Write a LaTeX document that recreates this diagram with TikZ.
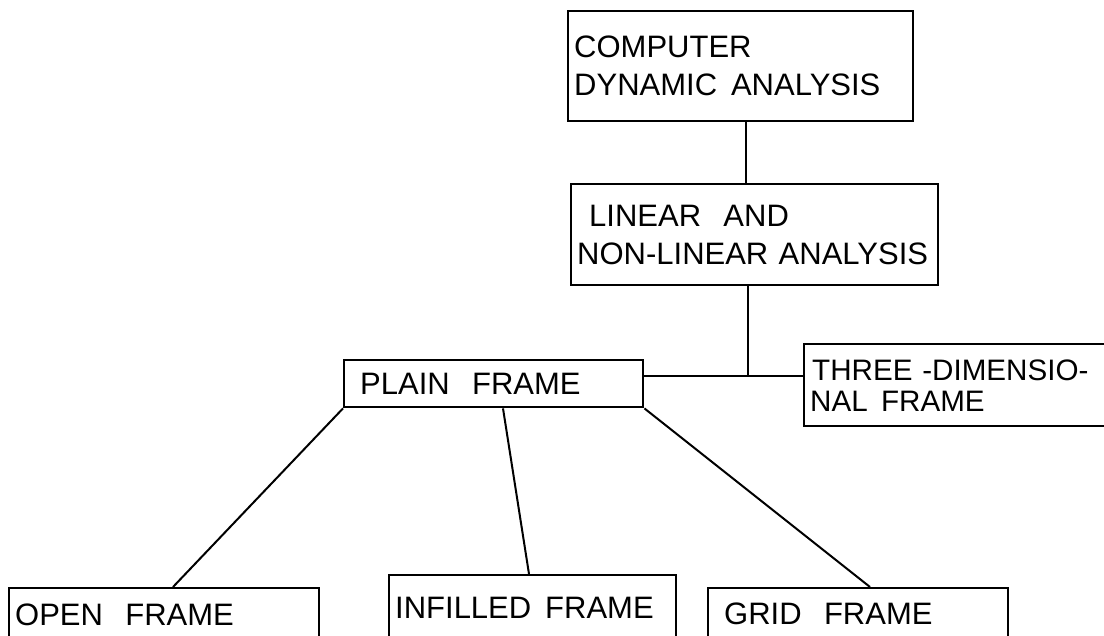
\documentclass[tikz,border=0pt]{standalone}
\usepackage{fontspec}
\setmainfont{Liberation Sans}
\usepackage{tikz}
\usetikzlibrary{calc}
\newcommand{\wide}{\hspace{0.72em}}
\newcommand{\half}{\hspace{0.45em}}
\tikzstyle{box} = [draw,line width=1.2pt,anchor=north west,inner xsep=3pt,inner ysep=0pt,align=left,font=\fontsize{15.5}{19}\selectfont]
\tikzstyle{smallbox} = [box,font=\fontsize{14.8}{15.5}\selectfont]
\tikzstyle{link} = [line width=1pt]

\begin{document}
\begin{tikzpicture}[x=0.5pt,y=-0.5pt]
\useasboundingbox (0,0) rectangle (1104,636);
\clip (0,0) rectangle (1104,636);

\draw(567,10) node[box,text width=166.5pt,minimum height=55pt] (comp) {COMPUTER\\DYNAMIC\half ANALYSIS};
\draw(570,183) node[box,text width=177.5pt,minimum height=50.5pt] (linear) {\hspace*{6pt}LINEAR\wide AND\\NON-LINEAR ANALYSIS};

\draw(343,359) node[box,text width=143.5pt,minimum height=23.5pt] (plain) {\hspace*{5pt}PLAIN\wide FRAME};
\draw(803,343) node[smallbox,text width=154pt,minimum height=41pt] (three) {\hspace*{1pt}THREE -DIMENSIO-\\NAL\half FRAME};

\draw(8,587) node[box,text width=149pt,minimum height=26.5pt] (open) {OPEN\wide FRAME};
\draw(388,574) node[box,text width=137.5pt,minimum height=32.5pt] (infilled) {INFILLED\half FRAME};
\draw(707,587) node[box,text width=144pt,minimum height=26pt] (grid) {\hspace*{5pt}GRID\wide FRAME};

\coordinate (j) at (748,376);
\draw[link] ($(comp.south west)+(179,0)$) -- ($(linear.north west)+(176,0)$);
\draw[link] ($(linear.south west)+(178,0)$) -- (j);
\draw[link] (plain.east |- j) -- (three.west |- j);

\draw[link] (plain.south west) -- ($(open.north west)+(165,0)$);
\draw[link] ($(plain.south west)+(160,0)$) -- ($(infilled.north west)+(141,0)$);
\draw[link] (plain.south east) -- ($(grid.north west)+(163,0)$);

\end{tikzpicture}
\end{document}
